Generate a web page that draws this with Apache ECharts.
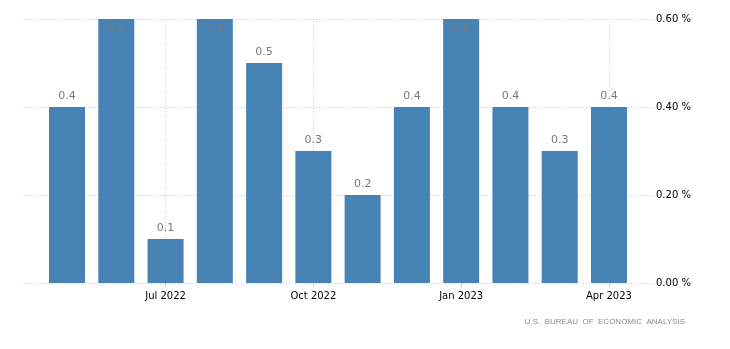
<!DOCTYPE html>
<html>
<head>
<meta charset="utf-8">
<script src="https://cdn.jsdelivr.net/npm/echarts@6/dist/echarts.min.js"></script>
<style>
  html, body { margin: 0; padding: 0; background: #fff; }
  #chart { width: 730px; height: 349px; }
</style>
</head>
<body>
<div id="chart"></div>
<script>
// Monthly change, percent
const months = ['May 2022', 'Jun 2022', 'Jul 2022', 'Aug 2022', 'Sep 2022', 'Oct 2022',
                'Nov 2022', 'Dec 2022', 'Jan 2023', 'Feb 2023', 'Mar 2023', 'Apr 2023'];
const values = [0.4, 0.6, 0.1, 0.6, 0.5, 0.3, 0.2, 0.4, 0.6, 0.4, 0.3, 0.4];
const shownMonths = ['Jul 2022', 'Oct 2022', 'Jan 2023', 'Apr 2023'];
const yTicks = [0, 0.2, 0.4, 0.6];
const sourceText = 'U.S.  BUREAU  OF  ECONOMIC  ANALYSIS';

const yMax = yTicks[yTicks.length - 1];
const axisFont = 'DejaVu Sans';
const barColor = '#4682b4';
const gridColor = '#cccccc';

const chart = echarts.init(document.getElementById('chart'), null, { renderer: 'canvas' });

chart.setOption({
  animation: false,
  grid: [
    // background grid: horizontal dotted lines and right-hand value labels
    { left: 22, right: 77, top: 19, bottom: 66 },
    // bar area
    { left: 42.4, right: 96.4, top: 19, bottom: 66 }
  ],
  xAxis: [
    { type: 'value', gridIndex: 0, show: false, min: 0, max: 1 },
    {
      type: 'category', gridIndex: 1, data: months, boundaryGap: true,
      axisLine: { show: false },
      axisTick: {
        show: true, alignWithLabel: true, length: 4,
        interval: (i, v) => shownMonths.indexOf(v) >= 0,
        lineStyle: { color: gridColor }
      },
      axisLabel: {
        interval: (i, v) => shownMonths.indexOf(v) >= 0,
        color: '#000', fontFamily: axisFont, fontSize: 10, margin: 8
      },
      splitLine: { show: false }
    }
  ],
  yAxis: [
    {
      type: 'value', gridIndex: 0, position: 'right', min: 0, max: yMax, interval: 0.2,
      axisLine: { show: false }, axisTick: { show: false },
      axisLabel: {
        color: '#000', fontFamily: axisFont, fontSize: 10, margin: 3,
        formatter: v => v.toFixed(2) + ' %'
      },
      splitLine: { show: true, lineStyle: { color: gridColor, type: [1, 2], width: 1 } }
    },
    { type: 'value', gridIndex: 1, min: 0, max: yMax, show: false }
  ],
  series: [
    {
      // vertical dotted guides at the labelled months, kept behind the bars
      type: 'line', xAxisIndex: 1, yAxisIndex: 1, data: [], z: 1, silent: true,
      markLine: {
        silent: true, symbol: 'none', animation: false, z: 1,
        label: { show: false },
        lineStyle: { color: gridColor, type: [1, 2], width: 1 },
        data: shownMonths.map(m => ({ xAxis: m }))
      }
    },
    {
      type: 'bar', xAxisIndex: 1, yAxisIndex: 1, z: 3,
      barWidth: 36,
      itemStyle: { color: barColor },
      data: values.map(v => ({
        value: v,
        label: {
          show: true,
          position: v >= yMax ? 'insideTop' : 'top',
          distance: 5,
          color: '#7a7a7a',
          textBorderWidth: 0,
          textBorderColor: 'transparent',
          fontFamily: axisFont,
          fontSize: 11,
          formatter: p => p.value.toFixed(1)
        }
      }))
    }
  ],
  graphic: [
    {
      type: 'text', right: 45, top: 318,
      style: {
        text: sourceText, fill: '#8a8a8a',
        font: '8px "Liberation Sans", sans-serif'
      }
    }
  ]
});
</script>
</body>
</html>
